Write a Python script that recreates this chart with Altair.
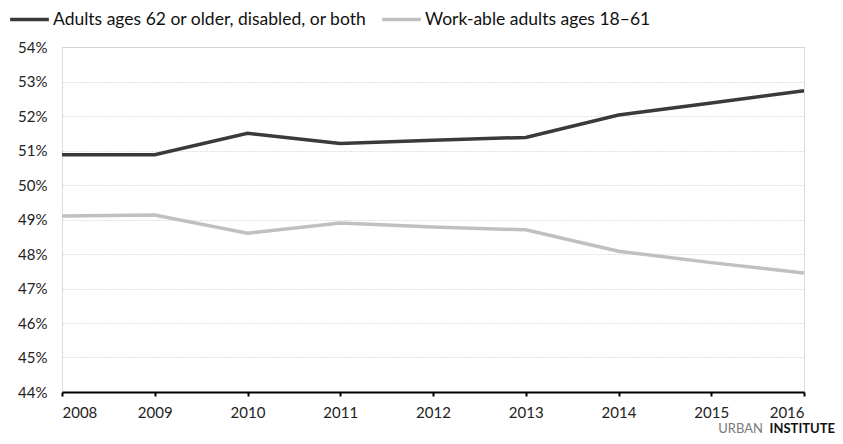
import altair as alt
import pandas as pd

years = [2008, 2009, 2010, 2011, 2012, 2013, 2014, 2015, 2016]
older_disabled = [0.5088, 0.5088, 0.5150, 0.5120, 0.5130, 0.5138, 0.5203, 0.5238, 0.5273]
work_able = [0.4910, 0.4913, 0.4860, 0.4890, 0.4878, 0.4870, 0.4808, 0.4775, 0.4745]
series_names = ["Adults ages 62 or older, disabled, or both", "Work-able adults ages 18–61"]
y_ticks = [0.44, 0.45, 0.46, 0.47, 0.48, 0.49, 0.50, 0.51, 0.52, 0.53, 0.54]
brand_words = ["URBAN", "INSTITUTE"]

rows = []
for y, a, b in zip(years, older_disabled, work_able):
    rows.append({"year": y, "value": a, "series": series_names[0]})
    rows.append({"year": y, "value": b, "series": series_names[1]})
df = pd.DataFrame(rows)

FONT = "Lato"

lines = alt.Chart(df).mark_line(strokeWidth=3.5).encode(
    x=alt.X("year:Q", scale=alt.Scale(domain=[2008, 2016], nice=False),
            axis=alt.Axis(values=years, format="d", title=None, grid=False,
                          domainColor="#000", domainWidth=2, tickColor="#000",
                          tickWidth=2, tickSize=4, labelFontSize=15, labelColor="#222",
                          labelPadding=9, labelFont=FONT)),
    y=alt.Y("value:Q", scale=alt.Scale(domain=[0.44, 0.54], nice=False, zero=False),
            axis=alt.Axis(values=y_ticks, format=".0%", title=None, domain=False,
                          ticks=False, grid=True, gridColor="#c4c4c4", gridDash=[1, 2],
                          gridWidth=1, labelFontSize=15, labelColor="#222",
                          labelPadding=15, labelFont=FONT)),
    color=alt.Color("series:N",
                    scale=alt.Scale(domain=series_names, range=["#3a3a3a", "#c0c0c0"]),
                    legend=alt.Legend(title=None, orient="none", direction="horizontal",
                                      legendX=-54, legendY=-49, symbolType="stroke",
                                      symbolStrokeWidth=3.5, symbolSize=1500,
                                      labelFontSize=17.5, labelColor="#111",
                                      labelFont=FONT, labelLimit=0, columnPadding=8,
                                      symbolOffset=0, labelOffset=2)),
)

brand1 = alt.Chart(pd.DataFrame({"t": [brand_words[0]]})).mark_text(
    align="right", baseline="alphabetic", fontSize=13, font=FONT, color="#7a7a7a"
).encode(x=alt.value(701), y=alt.value(386), text="t:N")
brand2 = alt.Chart(pd.DataFrame({"t": [brand_words[1]]})).mark_text(
    align="right", baseline="alphabetic", fontSize=13, font=FONT, color="#111",
    fontWeight="bold"
).encode(x=alt.value(773), y=alt.value(386), text="t:N")

chart = alt.layer(lines, brand1, brand2).properties(
    width=742, height=345,
    autosize=alt.AutoSizeParams(type="none"),
    padding={"left": 54, "top": 39, "right": 31, "bottom": 44},
).configure_view(stroke=None).configure(font=FONT)

chart.save("out.html", embed_options={"renderer": "svg", "actions": False})
